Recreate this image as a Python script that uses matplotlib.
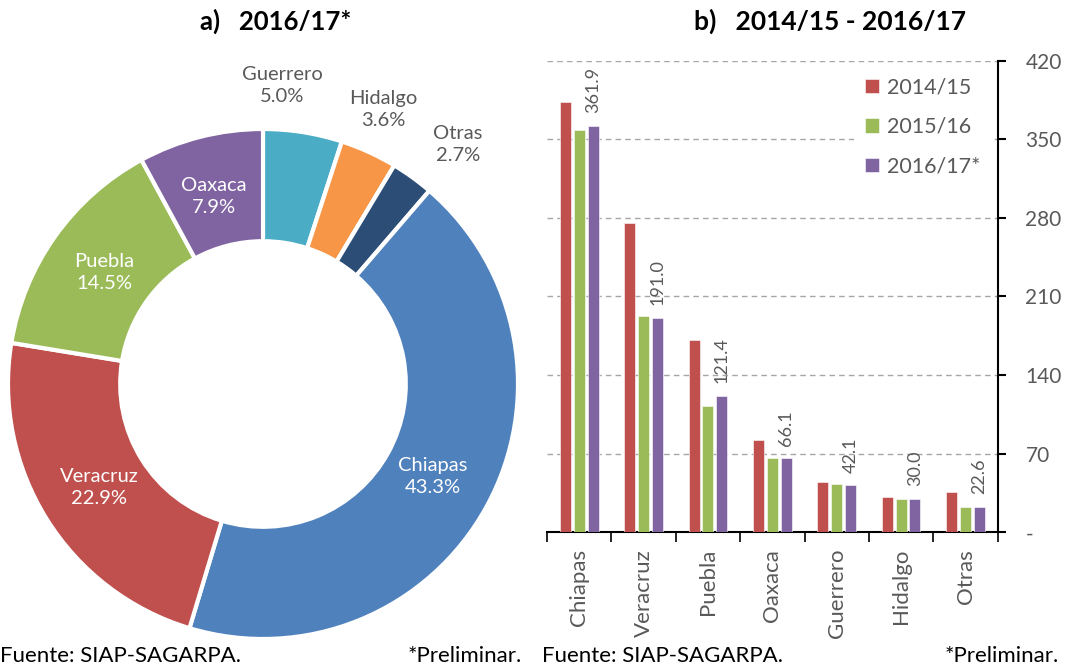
import numpy as np
import matplotlib.pyplot as plt
from matplotlib.ticker import FixedLocator

plt.rcParams['font.family'] = ['Lato', 'DejaVu Sans']

# datos del grafico de dona (2016/17*), en sentido horario desde arriba
pie_labels = ['Guerrero', 'Hidalgo', 'Otras', 'Chiapas', 'Veracruz', 'Puebla', 'Oaxaca']
pie_pct = [5.0, 3.6, 2.7, 43.3, 22.9, 14.5, 7.9]
pie_colors = ['#4BACC6', '#F79646', '#2C4D75', '#4F81BD', '#C0504D', '#9BBB59', '#8064A2']

# datos del grafico de barras
estados = ['Chiapas', 'Veracruz', 'Puebla', 'Oaxaca', 'Guerrero', 'Hidalgo', 'Otras']
v_1415 = [383.0, 275.7, 171.0, 82.5, 45.1, 31.4, 35.9]
v_1516 = [358.0, 192.4, 112.2, 66.2, 42.7, 29.7, 22.3]
v_1617 = [361.9, 191.0, 121.4, 66.1, 42.1, 30.0, 22.6]
series = ['2014/15', '2015/16', '2016/17*']
bar_colors = ['#C0504D', '#9BBB59', '#8064A2']

gris = '#595959'

fig = plt.figure(figsize=(10.67, 6.69), dpi=100)

# ---- a) dona
ax1 = fig.add_axes([8 / 1067, 30 / 669, 510 / 1067, 510 / 669])
wedges, _ = ax1.pie(pie_pct, colors=pie_colors, startangle=90, counterclock=False,
                    radius=1.0, wedgeprops=dict(width=0.44, edgecolor='white', linewidth=3))
ax1.set_xlim(-1, 1)
ax1.set_ylim(-1, 1)
ax1.set_aspect('equal')
ax1.axis('off')

# posiciones de las etiquetas exteriores (como en el original)
pos_fuera = {'Guerrero': (0.075, 1.17), 'Hidalgo': (0.47, 1.075), 'Otras': (0.765, 0.94)}

ang0 = 90.0
for lab, p in zip(pie_labels, pie_pct):
    mid = np.deg2rad(ang0 - p * 3.6 / 2)
    ang0 -= p * 3.6
    if lab in pos_fuera:
        tx, ty = pos_fuera[lab]
        col = gris
    else:
        tx, ty = 0.76 * np.cos(mid), 0.76 * np.sin(mid)
        col = 'white'
    ax1.text(tx, ty, f'{lab}\n{p:.1f}%', ha='center', va='center',
             color=col, fontsize=14.5, linespacing=1.35, clip_on=False)

fig.text(0.258, 0.968, 'a)   2016/17*', ha='center', va='center', fontsize=18.5, fontweight='bold')

# ---- b) barras
ax2 = fig.add_axes([547 / 1067, 136.7 / 669, 450.7 / 1067, 471.6 / 669])
x = np.arange(len(estados))
w = 0.17
step = 0.215
datos = [v_1415, v_1516, v_1617]
for i, (vals, c, s) in enumerate(zip(datos, bar_colors, series)):
    ax2.bar(x + (i - 1) * step, vals, width=w, color=c, label=s, zorder=3,
            edgecolor='white', linewidth=0.4)

for xi, v in zip(x, v_1617):
    ax2.annotate(f'{v:.1f}', (xi + step, v), xytext=(0, 9), textcoords='offset points',
                 rotation=90, ha='center', va='bottom', color=gris, fontsize=13)

ax2.set_xlim(-0.5, len(estados) - 0.5)
ax2.set_ylim(0, 420)
ax2.yaxis.tick_right()
ax2.set_yticks([0, 70, 140, 210, 280, 350, 420])
ax2.set_yticklabels(['-', '70', '140', '210', '280', '350', '420'])
ax2.tick_params(axis='y', direction='out', length=6, width=1.5, pad=14, labelsize=15,
                labelcolor=gris)
ax2.set_xticks(x)
ax2.set_xticklabels(estados, rotation=90, fontsize=16, color=gris)
ax2.tick_params(axis='x', which='major', length=0, pad=12)
ax2.xaxis.set_minor_locator(FixedLocator(np.arange(-0.5, len(estados), 1)))
ax2.tick_params(axis='x', which='minor', direction='out', length=7, width=1.2)

ax2.grid(axis='y', linestyle=(0, (4, 3)), color='#A6A6A6', linewidth=1, zorder=0)
for s in ['left', 'top']:
    ax2.spines[s].set_visible(False)
ax2.spines['right'].set_linewidth(1.5)
ax2.spines['bottom'].set_linewidth(1.5)

leg = ax2.legend(loc='upper right', bbox_to_anchor=(1.01, 1.01), fontsize=15.5, frameon=True,
                 facecolor='white', edgecolor='none', framealpha=1, handlelength=0.65,
                 handleheight=0.65, handletextpad=0.4, labelspacing=0.9, borderpad=0.5)
for t in leg.get_texts():
    t.set_color(gris)
leg.set_zorder(5)

fig.text(0.778, 0.968, 'b)   2014/15 - 2016/17', ha='center', va='center', fontsize=19,
         fontweight='bold')

# pies de figura
fig.text(0.0, 0.02, 'Fuente: SIAP-SAGARPA.', fontsize=16, va='center')
fig.text(0.489, 0.02, '*Preliminar.', fontsize=16, va='center', ha='right')
fig.text(0.508, 0.02, 'Fuente: SIAP-SAGARPA.', fontsize=16, va='center')
fig.text(0.992, 0.02, '*Preliminar.', fontsize=16, va='center', ha='right')

fig.savefig('out.png', dpi=100)
